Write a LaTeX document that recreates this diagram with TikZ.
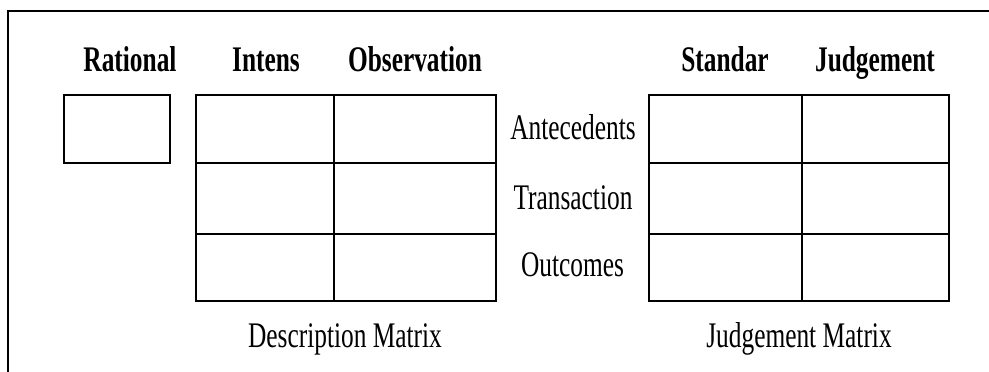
\documentclass[tikz,border=0pt]{standalone}
\usepackage{fontspec}
\usepackage{graphicx}
\setmainfont{Liberation Serif}
% condensed lettering used for every label
\newcommand{\narrow}[1]{\scalebox{0.705}[1]{#1}}
\begin{document}
\begin{tikzpicture}[x=1pt,y=-1pt,
  grid/.style={line width=1.8pt, line join=miter},
  frame/.style={line width=2pt},
  head/.style={anchor=base, inner sep=0pt, font=\fontsize{36}{40}\selectfont\bfseries},
  lbl/.style={anchor=base, inner sep=0pt, font=\fontsize{36}{40}\selectfont}]
\useasboundingbox (0,0) rectangle (989,372);

% outer frame (top and left edges)
\draw[frame] (8.3,372) -- (8.3,11) -- (989,11);

% column headings
\node[head] (hrat) at (130,71) {\narrow{Rational}};
\node[head] (hint) at (266,71) {\narrow{Intens}};
\node[head] (hobs) at (415,71) {\narrow{Observation}};
\node[head] (hstd) at (725,71) {\narrow{Standar}};
\node[head] (hjdg) at (875,71) {\narrow{Judgement}};

% rationale box
\draw[grid] (64,95) rectangle (170,163);

% description matrix
\draw[grid] (196,95) rectangle (496,301);
\draw[grid] (334,95) -- (334,301);
\draw[grid] (196,163) -- (496,163);
\draw[grid] (196,234) -- (496,234);

% judgement matrix
\draw[grid] (649,95) rectangle (949,301);
\draw[grid] (802,95) -- (802,301);
\draw[grid] (649,163) -- (949,163);
\draw[grid] (649,234) -- (949,234);

% row labels
\node[lbl] (rant) at (573,139.5) {\narrow{Antecedents}};
\node[lbl] (rtra) at (573,209.5) {\narrow{Transaction}};
\node[lbl] (rout) at (572.5,276) {\narrow{Outcomes}};

% matrix captions
\node[lbl] (cdes) at (345,347) {\narrow{Description Matrix}};
\node[lbl] (cjdg) at (799,347) {\narrow{Judgement Matrix}};
\end{tikzpicture}
\end{document}
